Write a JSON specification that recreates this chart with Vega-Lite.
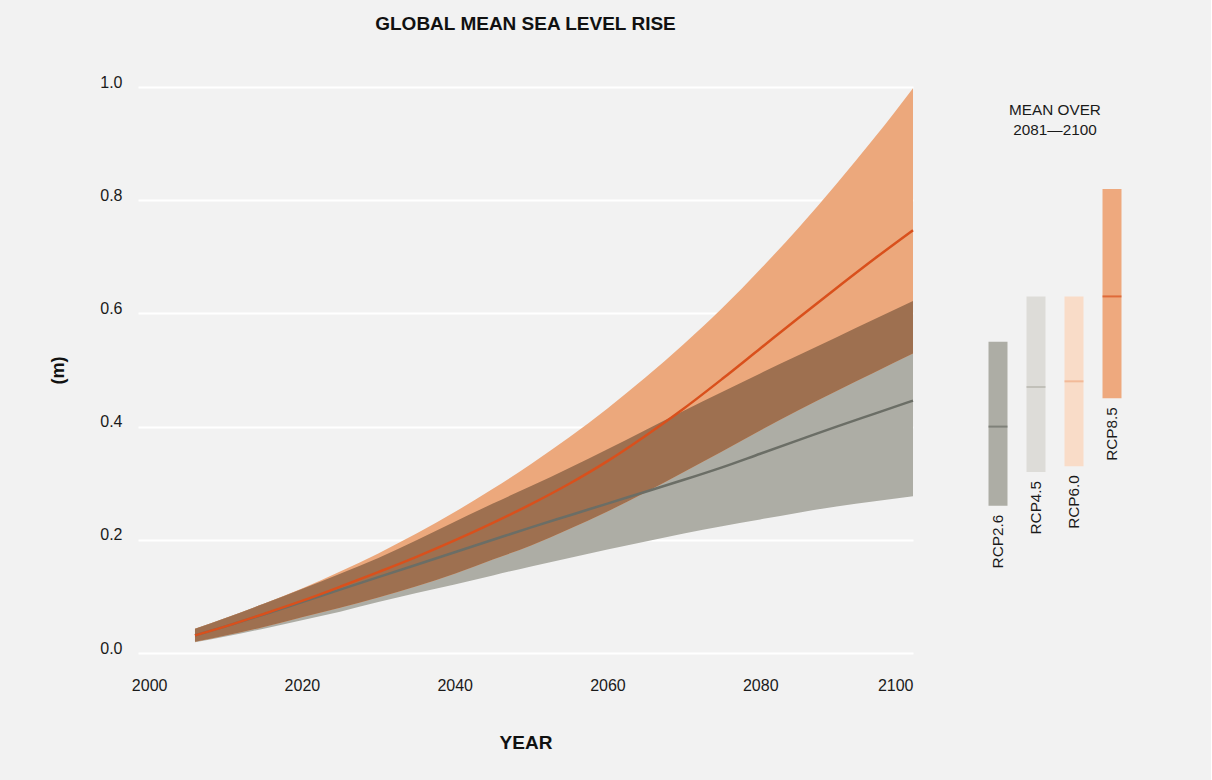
{
  "$schema": "https://vega.github.io/schema/vega-lite/v6.json",
  "background": "#f2f2f2",
  "padding": {"left": 49, "top": 15, "right": 80, "bottom": 40},
  "autosize": {"type": "pad"},
  "spacing": 66,
  "bounds": "flush",
  "config": {
    "view": {"stroke": null},
    "font": "Liberation Sans",
    "text": {"font": "Liberation Sans"}
  },
  "datasets": {
    "gmsl": [
      {"year": 2006, "low26": 0.019, "mid26": 0.031, "high26": 0.043, "low85": 0.020, "mid85": 0.031, "high85": 0.043},
      {"year": 2010, "low26": 0.029, "mid26": 0.047, "high26": 0.062, "low85": 0.031, "mid85": 0.047, "high85": 0.062},
      {"year": 2015, "low26": 0.043, "mid26": 0.068, "high26": 0.087, "low85": 0.046, "mid85": 0.069, "high85": 0.087},
      {"year": 2020, "low26": 0.058, "mid26": 0.090, "high26": 0.113, "low85": 0.063, "mid85": 0.092, "high85": 0.114},
      {"year": 2025, "low26": 0.073, "mid26": 0.112, "high26": 0.140, "low85": 0.080, "mid85": 0.117, "high85": 0.144},
      {"year": 2030, "low26": 0.090, "mid26": 0.134, "high26": 0.168, "low85": 0.098, "mid85": 0.143, "high85": 0.176},
      {"year": 2035, "low26": 0.106, "mid26": 0.156, "high26": 0.199, "low85": 0.118, "mid85": 0.170, "high85": 0.211},
      {"year": 2040, "low26": 0.121, "mid26": 0.178, "high26": 0.232, "low85": 0.140, "mid85": 0.199, "high85": 0.249},
      {"year": 2045, "low26": 0.137, "mid26": 0.200, "high26": 0.264, "low85": 0.165, "mid85": 0.230, "high85": 0.290},
      {"year": 2050, "low26": 0.153, "mid26": 0.222, "high26": 0.295, "low85": 0.190, "mid85": 0.263, "high85": 0.334},
      {"year": 2055, "low26": 0.168, "mid26": 0.243, "high26": 0.327, "low85": 0.219, "mid85": 0.299, "high85": 0.381},
      {"year": 2060, "low26": 0.183, "mid26": 0.264, "high26": 0.360, "low85": 0.250, "mid85": 0.339, "high85": 0.432},
      {"year": 2065, "low26": 0.197, "mid26": 0.285, "high26": 0.394, "low85": 0.284, "mid85": 0.384, "high85": 0.487},
      {"year": 2070, "low26": 0.211, "mid26": 0.306, "high26": 0.428, "low85": 0.320, "mid85": 0.432, "high85": 0.546},
      {"year": 2075, "low26": 0.224, "mid26": 0.328, "high26": 0.461, "low85": 0.356, "mid85": 0.484, "high85": 0.609},
      {"year": 2080, "low26": 0.236, "mid26": 0.352, "high26": 0.494, "low85": 0.393, "mid85": 0.538, "high85": 0.678},
      {"year": 2085, "low26": 0.248, "mid26": 0.376, "high26": 0.526, "low85": 0.429, "mid85": 0.592, "high85": 0.751},
      {"year": 2090, "low26": 0.259, "mid26": 0.400, "high26": 0.558, "low85": 0.463, "mid85": 0.645, "high85": 0.829},
      {"year": 2095, "low26": 0.268, "mid26": 0.423, "high26": 0.590, "low85": 0.496, "mid85": 0.697, "high85": 0.911},
      {"year": 2100, "low26": 0.277, "mid26": 0.446, "high26": 0.622, "low85": 0.529, "mid85": 0.747, "high85": 0.998}
    ],
    "means": [
      {"scenario": "RCP2.6", "low": 0.26, "mean": 0.40, "high": 0.55},
      {"scenario": "RCP4.5", "low": 0.32, "mean": 0.47, "high": 0.63},
      {"scenario": "RCP6.0", "low": 0.33, "mean": 0.48, "high": 0.63},
      {"scenario": "RCP8.5", "low": 0.45, "mean": 0.63, "high": 0.82}
    ]
  },
  "hconcat": [
    {
      "width": 775,
      "height": 566,
      "title": {"text": "GLOBAL MEAN SEA LEVEL RISE", "fontSize": 19, "fontWeight": "bold", "anchor": "middle", "baseline": "alphabetic", "offset": 25, "color": "#111111", "font": "Liberation Sans"},
      "data": {"name": "gmsl"},
      "encoding": {
        "x": {
          "field": "year", "type": "quantitative",
          "scale": {"domain": [1998.54, 2100], "nice": false, "zero": false},
          "axis": {
            "title": "YEAR", "values": [2000, 2020, 2040, 2060, 2080, 2100], "format": "d",
            "grid": false, "domain": false, "ticks": false, "tickSize": 0,
            "labelPadding": 37.5, "labelBaseline": "alphabetic", "labelFlush": true,
            "labelFontSize": 16, "labelColor": "#1a1a1a", "labelFont": "Liberation Sans",
            "titleFontSize": 19, "titleFontWeight": "bold", "titleColor": "#111111", "titleFont": "Liberation Sans",
            "titleX": 387.5, "titleY": 89, "titleBaseline": "middle", "titleAlign": "center"
          }
        }
      },
      "layer": [
        {
          "mark": {"type": "area", "color": "#adada5", "interpolate": "monotone"},
          "encoding": {
            "y": {
              "field": "low26", "type": "quantitative",
              "scale": {"domain": [0, 1], "nice": false},
              "axis": {
                "title": "(m)", "values": [0, 0.2, 0.4, 0.6, 0.8, 1.0], "format": ".1f",
                "grid": true, "gridColor": "#ffffff", "gridWidth": 2, "domain": false, "ticks": false, "tickSize": 0,
                "labelPadding": 16, "labelBaseline": "alphabetic", "labelFontSize": 16, "labelColor": "#1a1a1a", "labelFont": "Liberation Sans",
                "titleFontSize": 18, "titleFontWeight": "bold", "titleColor": "#111111", "titleFont": "Liberation Sans",
                "titleX": -80, "titleY": 283, "titleAngle": -90, "titleAlign": "center", "titleBaseline": "middle"
              }
            },
            "y2": {"field": "high26"}
          }
        },
        {
          "mark": {"type": "area", "color": "#eca87c", "interpolate": "monotone"},
          "encoding": {
            "y": {"field": "low85", "type": "quantitative"},
            "y2": {"field": "high85"}
          }
        },
        {
          "mark": {"type": "area", "color": "#9e7050", "interpolate": "monotone"},
          "encoding": {
            "y": {"field": "low85", "type": "quantitative"},
            "y2": {"field": "high26"}
          }
        },
        {
          "mark": {"type": "line", "color": "#6b6e66", "strokeWidth": 2.5, "interpolate": "monotone"},
          "encoding": {"y": {"field": "mid26", "type": "quantitative"}}
        },
        {
          "mark": {"type": "line", "color": "#d9501c", "strokeWidth": 2.5, "interpolate": "monotone"},
          "encoding": {"y": {"field": "mid85", "type": "quantitative"}}
        }
      ]
    },
    {
      "width": 152,
      "height": 566,
      "title": {"text": ["MEAN OVER", "2081\u20142100"], "fontSize": 15.3, "fontWeight": "normal", "anchor": "middle", "baseline": "alphabetic", "offset": -63, "lineHeight": 19.3, "color": "#1a1a1a", "font": "Liberation Sans"},
      "data": {"name": "means"},
      "encoding": {
        "x": {"field": "scenario", "type": "nominal", "sort": null, "scale": {"paddingInner": 0.5, "paddingOuter": 0.25}, "axis": null}
      },
      "layer": [
        {
          "mark": {"type": "bar"},
          "encoding": {
            "y": {"field": "low", "type": "quantitative", "scale": {"domain": [0, 1], "nice": false}, "axis": null},
            "y2": {"field": "high"},
            "color": {"field": "scenario", "type": "nominal", "scale": {"domain": ["RCP2.6", "RCP4.5", "RCP6.0", "RCP8.5"], "range": ["#adada5", "#dddcd8", "#f9dcc8", "#eea97e"]}, "legend": null}
          }
        },
        {
          "mark": {"type": "tick", "thickness": 2, "size": 19, "orient": "horizontal"},
          "encoding": {
            "y": {"field": "mean", "type": "quantitative"},
            "color": {"field": "scenario", "type": "nominal", "scale": {"domain": ["RCP2.6", "RCP4.5", "RCP6.0", "RCP8.5"], "range": ["#6b6e66", "#b5b4ad", "#f0ab84", "#d9501c"]}, "legend": null}
          }
        },
        {
          "mark": {"type": "text", "angle": 270, "align": "right", "baseline": "middle", "dx": -9, "fontSize": 15.3, "color": "#1a1a1a", "font": "Liberation Sans"},
          "encoding": {
            "y": {"field": "low", "type": "quantitative"},
            "text": {"field": "scenario", "type": "nominal"}
          }
        }
      ],
      "resolve": {"scale": {"color": "independent"}}
    }
  ]
}
